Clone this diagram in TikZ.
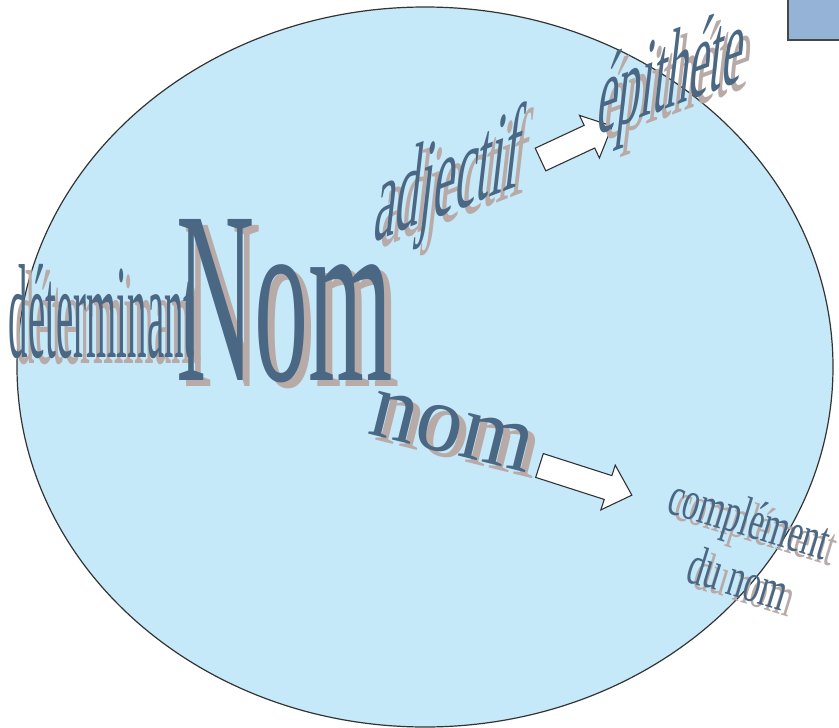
\documentclass[tikz,border=0pt]{standalone}
\usepackage{fontspec}
\setmainfont{Liberation Serif}
\definecolor{textblue}{RGB}{74,104,132}
\definecolor{shadowgray}{RGB}{184,170,166}
\definecolor{ellfill}{RGB}{198,233,250}
\definecolor{boxfill}{RGB}{149,179,215}
\definecolor{edgegray}{RGB}{51,51,51}
\tikzset{
  wmain/.style={transform shape, anchor=base west, inner sep=0pt, outer sep=0pt, text=textblue},
  wshadow/.style={transform shape, anchor=base west, inner sep=0pt, outer sep=0pt, text=shadowgray},
  barrow/.style={draw=edgegray, fill=white, line width=1.1pt, line join=miter},
}
% #1 name, #2 x, #3 y (pixels, downward), #4 yslant, #5 xslant, #6 rotate, #7 xscale, #8 font size, #9 text
\newcommand\wordart[9]{%
  \begin{scope}[shift={({#2+7},{-(#3)-6})}, rotate=#6, yslant=#4, xslant=#5, xscale=#7]
    \node[wshadow, font=\fontsize{#8}{#8}\selectfont] (#1-sh) at (0,0) {#9};
  \end{scope}
  \begin{scope}[shift={({#2},{-(#3)})}, rotate=#6, yslant=#4, xslant=#5, xscale=#7]
    \node[wmain, font=\fontsize{#8}{#8}\selectfont] (#1) at (0,0) {#9};
  \end{scope}}
% #1 x, #2 y (tail middle), #3 angle, #4 length
\newcommand\blockarrow[4]{%
  \begin{scope}[shift={({#1},{-(#2)})}, rotate=#3]
    \draw[barrow] (0,12.5) -- ({#4-25},12.5) -- ({#4-25},23.5) -- (#4,0)
      -- ({#4-25},-23.5) -- ({#4-25},-12.5) -- (0,-12.5) -- cycle;
  \end{scope}}
\begin{document}
\begin{tikzpicture}[x=1pt,y=1pt]
\clip (0,0) rectangle (839,-728);
\useasboundingbox (0,0) rectangle (839,-728);
% background shapes
\draw[fill=ellfill, draw=edgegray, line width=1.2pt] (425,-367) ellipse [x radius=408, y radius=360];
\draw[fill=boxfill, draw=edgegray!90, line width=1.6pt] (788,-40) rectangle (850,5);
% block arrows
\blockarrow{540.5}{159.5}{25}{79}
\blockarrow{539.5}{465.5}{-17.8}{97}
% words
\wordart{det}{9}{357}{0}{0}{0}{0.29}{134}{déterminant}
\wordart{Nom}{176}{380}{0}{0}{0}{0.44}{246}{Nom}
\wordart{adj}{372}{242}{0.38}{0.12}{0}{0.42}{116}{adjectif}
\wordart{epi}{595}{135}{0.37}{0.12}{0}{0.42}{110}{épithéte}
\wordart{nom}{366}{433}{0}{0}{-14}{0.97}{96}{nom}
\wordart{cpl}{665}{512}{0}{0}{-17}{0.6}{56}{complément}
\wordart{dunom}{684}{581}{0}{0}{-17}{0.6}{56}{du nom}
\end{tikzpicture}
\end{document}
